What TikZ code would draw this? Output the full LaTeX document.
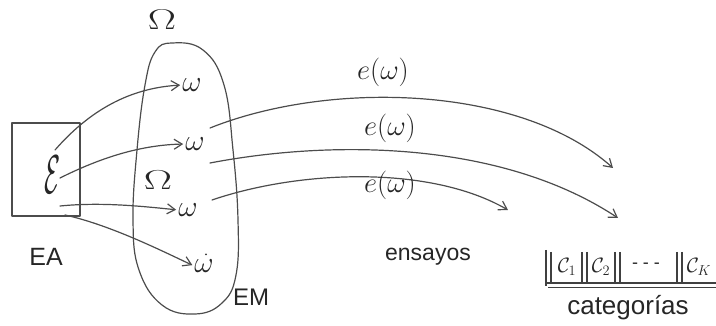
\documentclass[tikz,border=0pt]{standalone}
\usepackage{fontspec}
\setmainfont{Liberation Sans}
\usetikzlibrary{arrows.meta}
\newcommand{\fsz}[1]{\fontsize{#1}{#1}\selectfont}
\begin{document}
\begin{tikzpicture}[x=1pt,y=-1pt,
  pen/.style={draw=black!70, line width=1.2pt, line cap=round, line join=round},
  arr/.style={pen, -{Straight Barb[length=8pt,width=10pt]}},
  lbl/.style={inner sep=0pt, text=black!85},
  bar/.style={draw=black!75, line width=1.2pt}]
\useasboundingbox (0,0) rectangle (716,326);

% EA box
\node[pen, minimum width=68pt, minimum height=93pt, inner sep=0pt] (ea) at (46,169.5) {};
\node[lbl] (eps) at (53,175) {\fsz{24}\scalebox{1.05}[2.2]{$\mathcal{E}$}};
\node[lbl] (eal) at (46,257) {\fsz{25}EA};

% blob
\draw[pen] plot[smooth cycle, tension=0.7] coordinates {(172,43) (203,50) (224,85) (233,150) (238,220) (236,275) (222,303) (195,314) (162,305) (139,270) (133,220) (137,150) (145,85) (155,52)};
\node[lbl] (omtop) at (162,20) {\fsz{24}\scalebox{1.7}[1.15]{$\Omega$}};
\node[lbl] (omin) at (158,180) {\fsz{24}\scalebox{1.7}[1.1]{$\Omega$}};
\node[lbl] (eml) at (251,297) {\fsz{24}EM};

% w nodes
\node[lbl] (w1) at (192,85) {\fsz{24}\scalebox{1.2}{$\omega$}};
\node[lbl] (w2) at (195,144) {\fsz{24}\scalebox{1.2}{$\omega$}};
\node[lbl] (w3) at (188,210) {\fsz{24}\scalebox{1.2}{$\omega$}};
\node[lbl] (w4) at (204,266) {\fsz{24}\scalebox{1.2}{$\omega$}};
\fill[black!80] (w4.north) ++(2,-5) circle (1.1pt);

% start points in box
\coordinate (a1) at (55,150);
\coordinate (a2) at (60,178);
\coordinate (a3) at (60,206);
\coordinate (a4) at (65,215);

\draw[arr, shorten >=2pt] (a1) .. controls (90,110) and (130,88) .. (w1.west);
\draw[arr, shorten >=2pt] (a2) .. controls (100,158) and (140,145) .. (w2.west);
\draw[arr, shorten >=2pt] (a3) .. controls (100,202) and (140,206) .. (w3.west);
\draw[arr, shorten >=2pt] (a4) .. controls (110,225) and (160,250) .. (w4.west);

% long arrows
\coordinate (s1) at (210,128);
\coordinate (s2) at (210,163);
\coordinate (s3) at (212,200);
\coordinate (t1) at (613,168);
\coordinate (t2) at (618,218);
\coordinate (t3) at (508,210);
\draw[arr] (s1) .. controls (330,80) and (520,85) .. (t1);
\draw[arr] (s2) .. controls (330,140) and (500,140) .. (t2);
\draw[arr] (s3) .. controls (300,170) and (430,165) .. (t3);

\node[lbl] (e1) at (383,72) {\fsz{24}\scalebox{1.15}{$e(\omega)$}};
\node[lbl] (e2) at (390,128) {\fsz{24}\scalebox{1.15}{$e(\omega)$}};
\node[lbl] (e3) at (390,185) {\fsz{24}\scalebox{1.15}{$e(\omega)$}};

\node[lbl] (ens) at (428,257) {\fsz{23}ensayos};

% categories
\draw[bar] (546,250) -- (546,286);
\draw[bar] (551,252) -- (551,283);
\draw[bar] (582,252) -- (582,283);
\draw[bar] (587,252) -- (587,283);
\draw[bar] (615,252) -- (615,283);
\draw[bar] (620,252) -- (620,283);
\draw[bar] (677,252) -- (677,283);
\draw[bar] (682,252) -- (682,283);
\draw[bar] (546,283) -- (716,283);
\draw[bar] (548,287.5) -- (716,287.5);
\node[lbl] (c1) at (567,267) {\fsz{22}$\mathcal{C}_1$};
\node[lbl] (c2) at (601,267) {\fsz{22}$\mathcal{C}_2$};
\node[lbl] (cd) at (646,266) {\fsz{18}- - -};
\node[lbl] (ck) at (699,267) {\fsz{22}$\mathcal{C}_K$};
\node[lbl] (cat) at (628,308) {\fsz{26}categorías};
\end{tikzpicture}
\end{document}
